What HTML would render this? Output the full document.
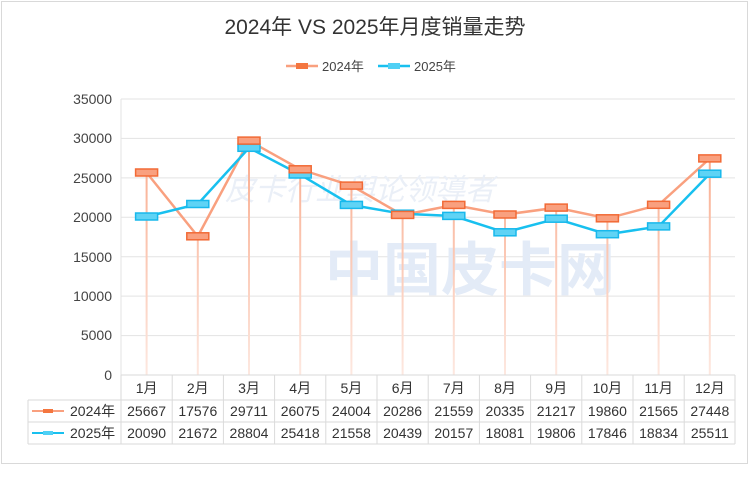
<!DOCTYPE html>
<html><head><meta charset="utf-8"><style>
body{margin:0;background:#fff;}
svg text{font-family:"Liberation Sans","Noto Sans CJK SC",sans-serif;}
</style></head><body>
<svg width="750" height="473" xmlns="http://www.w3.org/2000/svg">
<defs>
<linearGradient id="dl" gradientUnits="userSpaceOnUse" x1="0" y1="140" x2="0" y2="375"><stop offset="0" stop-color="#f9a98a"/><stop offset="1" stop-color="#fde8e0"/></linearGradient>
</defs>
<rect x="1.5" y="1.5" width="746" height="462" fill="#fff" stroke="#d9d9d9"/>
<text x="375" y="34" font-size="21" text-anchor="middle" fill="#333">2024年 VS 2025年月度销量走势</text>
<g font-size="13" fill="#444">
<line x1="286" y1="66" x2="318" y2="66" stroke="#f9a07f" stroke-width="2.5"/><rect x="296" y="63" width="12" height="6" fill="#f4763f"/>
<text x="322" y="71">2024年</text>
<line x1="378" y1="66" x2="410" y2="66" stroke="#18c0ef" stroke-width="2.5"/><rect x="388" y="63" width="12" height="6" fill="#4fd0f5"/>
<text x="414" y="71">2025年</text>
</g>
<g stroke="#e3e3e3" stroke-width="1">
<line x1="121" y1="99" x2="735" y2="99"/><line x1="121" y1="138.4" x2="735" y2="138.4"/><line x1="121" y1="177.9" x2="735" y2="177.9"/><line x1="121" y1="217.3" x2="735" y2="217.3"/><line x1="121" y1="256.7" x2="735" y2="256.7"/><line x1="121" y1="296.1" x2="735" y2="296.1"/><line x1="121" y1="335.6" x2="735" y2="335.6"/>
<line x1="121" y1="99" x2="121" y2="375"/>
</g>
<g font-size="14" fill="#444" text-anchor="end">
<text x="112" y="104">35000</text><text x="112" y="143">30000</text><text x="112" y="183">25000</text><text x="112" y="222">20000</text><text x="112" y="262">15000</text><text x="112" y="301">10000</text><text x="112" y="340">5000</text><text x="112" y="380">0</text>
</g>
<text x="470" y="290" font-size="58" font-weight="bold" fill="#e3ebf7" text-anchor="middle">中国皮卡网</text>
<text x="360" y="200" font-size="30" fill="#eaeff7" font-style="italic" text-anchor="middle">皮卡行业舆论领導者</text>
<g stroke="url(#dl)" stroke-width="2">
<line x1="146.6" y1="172.6" x2="146.6" y2="375"/><line x1="197.8" y1="236.4" x2="197.8" y2="375"/><line x1="249" y1="140.7" x2="249" y2="375"/><line x1="300.2" y1="169.4" x2="300.2" y2="375"/><line x1="351.4" y1="185.7" x2="351.4" y2="375"/><line x1="402.6" y1="215" x2="402.6" y2="375"/><line x1="453.8" y1="205" x2="453.8" y2="375"/><line x1="505" y1="214.6" x2="505" y2="375"/><line x1="556.2" y1="207.7" x2="556.2" y2="375"/><line x1="607.4" y1="218.4" x2="607.4" y2="375"/><line x1="658.6" y1="204.9" x2="658.6" y2="375"/><line x1="709.8" y1="158.5" x2="709.8" y2="375"/>
</g>
<polyline fill="none" stroke="#f9a07f" stroke-width="2.5" points="146.6,172.6 197.8,236.4 249,140.7 300.2,169.4 351.4,185.7 402.6,215 453.8,205 505,214.6 556.2,207.7 607.4,218.4 658.6,204.9 709.8,158.5"/>
<polyline fill="none" stroke="#18c0ef" stroke-width="2.5" points="146.6,216.6 197.8,204.1 249,147.9 300.2,174.6 351.4,205 402.6,213.8 453.8,216 505,232.4 556.2,218.8 607.4,234.3 658.6,226.5 709.8,173.8"/>
<g fill="#5fd3f5" stroke="#18b8ec" stroke-width="1.5">
<rect x="135.6" y="213" width="22" height="7"/><rect x="186.8" y="200.5" width="22" height="7"/><rect x="238" y="144.3" width="22" height="7"/><rect x="289.2" y="171" width="22" height="7"/><rect x="340.4" y="201.4" width="22" height="7"/><rect x="391.6" y="210.2" width="22" height="7"/><rect x="442.8" y="212.4" width="22" height="7"/><rect x="494" y="228.8" width="22" height="7"/><rect x="545.2" y="215.2" width="22" height="7"/><rect x="596.4" y="230.7" width="22" height="7"/><rect x="647.6" y="222.9" width="22" height="7"/><rect x="698.8" y="170.2" width="22" height="7"/>
</g>
<g fill="#f9a07f" stroke="#f26a36" stroke-width="1.5">
<rect x="135.6" y="169" width="22" height="7"/><rect x="186.8" y="232.8" width="22" height="7"/><rect x="238" y="137.1" width="22" height="7"/><rect x="289.2" y="165.8" width="22" height="7"/><rect x="340.4" y="182.1" width="22" height="7"/><rect x="391.6" y="211.4" width="22" height="7"/><rect x="442.8" y="201.4" width="22" height="7"/><rect x="494" y="211" width="22" height="7"/><rect x="545.2" y="204.1" width="22" height="7"/><rect x="596.4" y="214.8" width="22" height="7"/><rect x="647.6" y="201.3" width="22" height="7"/><rect x="698.8" y="154.9" width="22" height="7"/>
</g>
<g stroke="#dadada" stroke-width="1" fill="none">
<line x1="121" y1="375" x2="735" y2="375"/>
<line x1="28" y1="400" x2="735" y2="400"/><line x1="28" y1="422" x2="735" y2="422"/><line x1="28" y1="444" x2="735" y2="444"/>
<line x1="28" y1="400" x2="28" y2="444"/><line x1="735" y1="375" x2="735" y2="444"/>
<line x1="121" y1="375" x2="121" y2="444"/><line x1="172.2" y1="375" x2="172.2" y2="444"/><line x1="223.4" y1="375" x2="223.4" y2="444"/><line x1="274.6" y1="375" x2="274.6" y2="444"/><line x1="325.8" y1="375" x2="325.8" y2="444"/><line x1="377" y1="375" x2="377" y2="444"/><line x1="428.2" y1="375" x2="428.2" y2="444"/><line x1="479.4" y1="375" x2="479.4" y2="444"/><line x1="530.6" y1="375" x2="530.6" y2="444"/><line x1="581.8" y1="375" x2="581.8" y2="444"/><line x1="633" y1="375" x2="633" y2="444"/><line x1="684.2" y1="375" x2="684.2" y2="444"/>
</g>
<g font-size="14" fill="#333" text-anchor="middle">
<text x="146.6" y="393">1月</text><text x="197.8" y="393">2月</text><text x="249" y="393">3月</text><text x="300.2" y="393">4月</text><text x="351.4" y="393">5月</text><text x="402.6" y="393">6月</text><text x="453.8" y="393">7月</text><text x="505" y="393">8月</text><text x="556.2" y="393">9月</text><text x="607.4" y="393">10月</text><text x="658.6" y="393">11月</text><text x="709.8" y="393">12月</text>
<text x="146.6" y="416">25667</text><text x="197.8" y="416">17576</text><text x="249" y="416">29711</text><text x="300.2" y="416">26075</text><text x="351.4" y="416">24004</text><text x="402.6" y="416">20286</text><text x="453.8" y="416">21559</text><text x="505" y="416">20335</text><text x="556.2" y="416">21217</text><text x="607.4" y="416">19860</text><text x="658.6" y="416">21565</text><text x="709.8" y="416">27448</text>
<text x="146.6" y="438">20090</text><text x="197.8" y="438">21672</text><text x="249" y="438">28804</text><text x="300.2" y="438">25418</text><text x="351.4" y="438">21558</text><text x="402.6" y="438">20439</text><text x="453.8" y="438">20157</text><text x="505" y="438">18081</text><text x="556.2" y="438">19806</text><text x="607.4" y="438">17846</text><text x="658.6" y="438">18834</text><text x="709.8" y="438">25511</text>
</g>
<line x1="32" y1="411" x2="64" y2="411" stroke="#f9a07f" stroke-width="2"/><rect x="43" y="409" width="10" height="4" fill="#f4763f"/>
<line x1="32" y1="433" x2="64" y2="433" stroke="#18c0ef" stroke-width="2"/><rect x="43" y="431" width="10" height="4" fill="#4fd0f5"/>
<g font-size="14" fill="#333"><text x="70" y="416">2024年</text><text x="70" y="438">2025年</text></g>
</svg>
</body></html>
